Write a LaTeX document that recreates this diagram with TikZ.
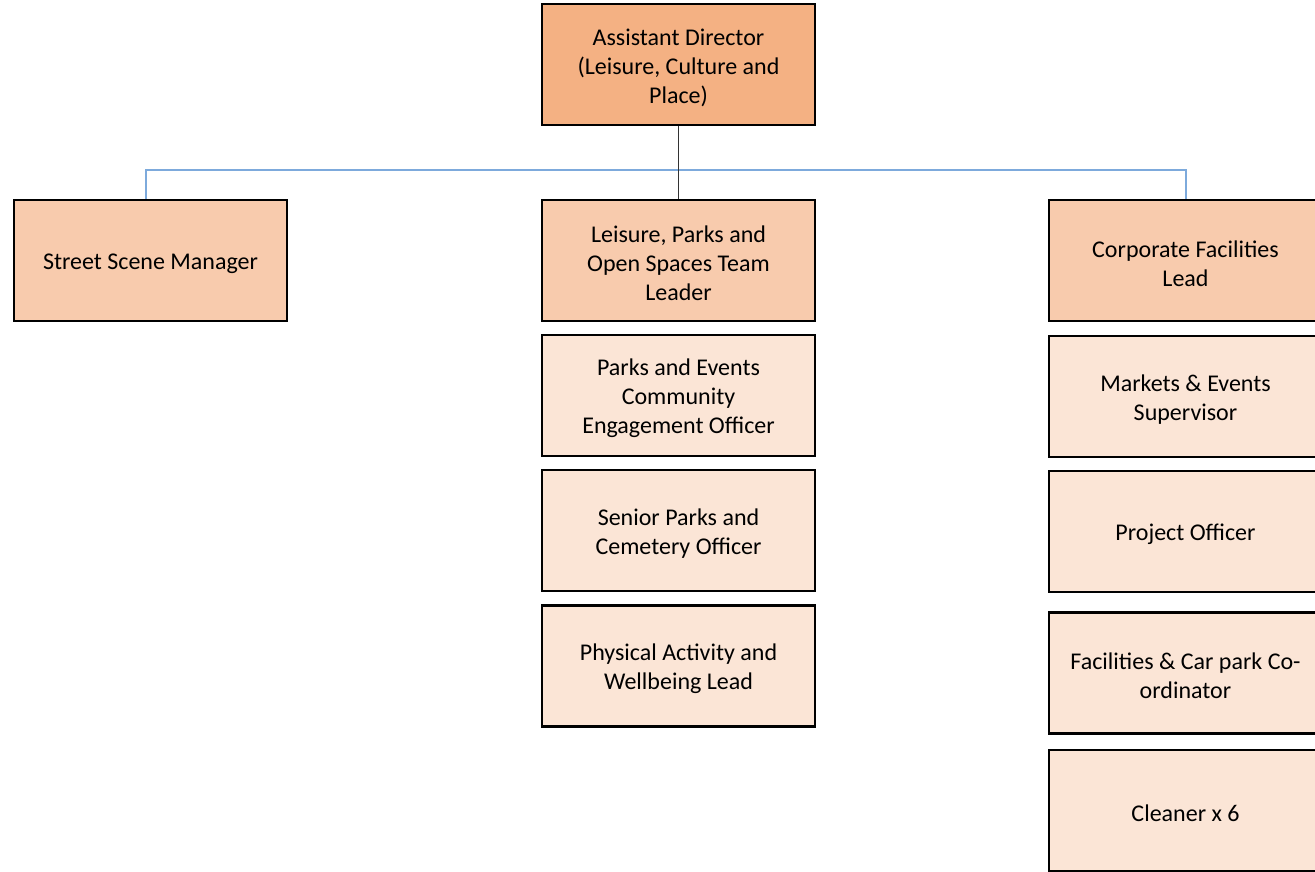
\documentclass[tikz,border=0pt]{standalone}
\usepackage{fontspec}
\setmainfont{Carlito}
\definecolor{topfill}{RGB}{244,177,131}
\definecolor{midfill}{RGB}{248,203,173}
\definecolor{lowfill}{RGB}{251,229,214}
\definecolor{bluelink}{RGB}{125,170,220}
\begin{document}
\begin{tikzpicture}[x=1pt,y=-1pt,
  orgbox/.style={draw=black,line width=2.5pt,minimum width=273pt,minimum height=121pt,
    inner sep=0pt},
  topbox/.style={orgbox,fill=topfill},
  midbox/.style={orgbox,fill=midfill},
  lowbox/.style={orgbox,fill=lowfill},
  boxtext/.style={inner sep=0pt,align=center,font=\fontsize{24}{29}\selectfont,text=black},
  blueline/.style={draw=bluelink,line width=1.5pt},
  darkline/.style={draw=black!80,line width=1.5pt}]
\useasboundingbox (0,0) rectangle (1315,872);
\clip (0,0) rectangle (1315,872);
\fill[white] (0,0) rectangle (1315,872);
% boxes
\node[topbox] (ad) at (678.5,64.5) {};
\node[midbox] (ssm) at (150.5,260.5) {};
\node[midbox] (lpo) at (678.5,260.5) {};
\node[midbox] (cfl) at (1185.5,260.5) {};
\node[lowbox] (pec) at (678.5,395.5) {};
\node[lowbox] (spc) at (678.5,530.5) {};
\node[lowbox] (paw) at (678.5,666) {};
\node[lowbox] (mes) at (1185.5,396.5) {};
\node[lowbox] (po) at (1185.5,531.5) {};
\node[lowbox] (fcp) at (1185.5,673) {};
\node[lowbox] (cl) at (1185.5,810.5) {};
% texts
\node[boxtext] (adt) at ([yshift=-3pt]ad.center) {Assistant Director\\(Leisure, Culture and\\Place)};
\node[boxtext] (ssmt) at ([yshift=-3pt]ssm.center) {Street Scene Manager};
\node[boxtext] (lpot) at ([yshift=-3pt]lpo.center) {Leisure, Parks and\\Open Spaces Team\\Leader};
\node[boxtext] (cflt) at ([yshift=-3pt]cfl.center) {Corporate Facilities\\Lead};
\node[boxtext] (pect) at ([yshift=-3pt]pec.center) {Parks and Events\\Community\\Engagement Officer};
\node[boxtext] (spct) at ([yshift=-3pt]spc.center) {Senior Parks and\\Cemetery Officer};
\node[boxtext] (pawt) at ([yshift=-3pt]paw.center) {Physical Activity and\\Wellbeing Lead};
\node[boxtext] (mest) at ([yshift=-3pt]mes.center) {Markets \& Events\\Supervisor};
\node[boxtext] (pot) at ([yshift=-3pt]po.center) {Project Officer};
\node[boxtext] (fcpt) at ([yshift=-3pt]fcp.center) {Facilities \& Car park Co-\\ordinator};
\node[boxtext] (clt) at ([yshift=-3pt]cl.center) {Cleaner x 6};
% connectors
\coordinate (bl) at (146,170);
\coordinate (br) at (1186,170);
\draw[blueline] (ssm.north -| bl) -- (bl) -- (br) -- (cfl.north -| br);
\draw[darkline] (ad.south) -- (lpo.north);
\end{tikzpicture}
\end{document}
